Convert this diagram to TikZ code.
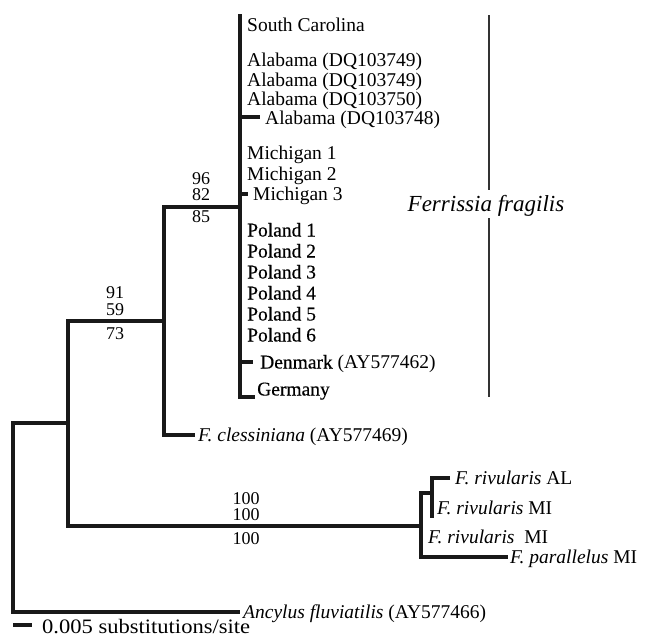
\documentclass[tikz,border=0pt]{standalone}
\usepackage{fontspec}
\setmainfont{Liberation Serif}
\newfontfamily\heavy[FakeBold=0.4]{Liberation Serif}
\newfontfamily\wide[FakeStretch=1.1]{Liberation Serif}
\begin{document}
\begin{tikzpicture}[x=1pt,y=-1pt,
  br/.style={line width=3.1pt,line join=miter,draw=black!90},
  thinline/.style={line width=1.2pt,draw=black!80},
  lbl/.style={anchor=base west,inner sep=0pt,font=\fontsize{19.5}{20}\selectfont},
  num/.style={anchor=base,inner sep=0pt,font=\fontsize{18}{18}\selectfont}]
\useasboundingbox (0,0) rectangle (647,640);
% internal nodes
\coordinate (R) at (13,423);
\coordinate (N2j) at (68,423);
\coordinate (N2) at (68,321);
\coordinate (N3j) at (164,321);
\coordinate (N3) at (164,207);
\coordinate (NFj) at (240,207);
\coordinate (NF) at (240,14);
\coordinate (NRj) at (421,526);
\coordinate (NR) at (421,493);
\coordinate (NR2j) at (432,493);
\coordinate (NR2) at (432,478);
\coordinate (NR2b) at (432,518);
% tips
\coordinate (tAnc) at (240,612);
\coordinate (tCle) at (195,435);
\coordinate (tGer) at (255,397);
\coordinate (tDen) at (253,362);
\coordinate (tMi3) at (248,194);
\coordinate (tAl4) at (260,117);
\coordinate (tAL) at (450,478);
\coordinate (tPar) at (508,557);
% branches
\draw[br] (N2j) -- (R) |- (tAnc);
\draw[br] (N3j) -- (N2) |- (NRj);
\draw[br] (NFj) -- (N3) |- (tCle);
\draw[br] (NF) |- (tGer);
\draw[br] (NF |- tDen) -- (tDen);
\draw[br] (NF |- tMi3) -- (tMi3);
\draw[br] (NF |- tAl4) -- (tAl4);
\draw[br] (NR2j) -- (NR) |- (tPar);
\draw[br] (tAL) -- (NR2) -- (NR2b);
% tip labels
\node[lbl] (sc) at (247,31.5) {South Carolina};
\node[lbl] (al1) at (247,66.5) {Alabama (DQ103749)};
\node[lbl] (al2) at (247,86.5) {Alabama (DQ103749)};
\node[lbl] (al3) at (247,105.5) {Alabama (DQ103750)};
\node[lbl] (al4) at (265,124.5) {Alabama (DQ103748)};
\node[lbl] (mi1) at (247,159.5) {Michigan 1};
\node[lbl] (mi2) at (247,180.5) {Michigan 2};
\node[lbl] (mi3) at (253,200.5) {Michigan 3};
\node[lbl] (po1) at (247,236.5) {\heavy Poland 1};
\node[lbl] (po2) at (247,257.5) {\heavy Poland 2};
\node[lbl] (po3) at (247,278.5) {\heavy Poland 3};
\node[lbl] (po4) at (247,299.5) {\heavy Poland 4};
\node[lbl] (po5) at (247,320.5) {\heavy Poland 5};
\node[lbl] (po6) at (247,341.5) {\heavy Poland 6};
\node[lbl] (den) at (260,368.5) {{\heavy Denmark} (AY577462)};
\node[lbl] (ger) at (257,395.5) {\heavy Germany};
\node[lbl] (cle) at (198,441.5) {\textit{F. clessiniana} (AY577469)};
\node[lbl] (rAL) at (455,484.5) {\textit{F. rivularis} AL};
\node[lbl] (rMI) at (437,514.5) {\textit{F. rivularis} MI};
\node[lbl] (rMI2) at (428,543.5) {\textit{F. rivularis}\ \ MI};
\node[lbl] (par) at (510,563.5) {\textit{F. parallelus} MI};
\node[lbl] (anc) at (243,618.5) {\textit{Ancylus fluviatilis} (AY577466)};
% support values
\node[num] (b96) at (201,184.5) {96};
\node[num] (b82) at (201,200.5) {82};
\node[num] (b85) at (201,222.5) {85};
\node[num] (b91) at (115,298.5) {91};
\node[num] (b59) at (115,315.5) {59};
\node[num] (b73) at (115,339.5) {73};
\node[num] (c1) at (246,504.5) {100};
\node[num] (c2) at (246,520.5) {100};
\node[num] (c3) at (246,544.5) {100};
% clade bracket
\node[anchor=base,inner sep=0pt,font=\fontsize{23}{23}\selectfont\itshape] (ff) at (486,211) {Ferrissia fragilis};
\coordinate (fb1) at (489,15);
\coordinate (fb2) at (489,190);
\coordinate (fb3) at (489,218);
\coordinate (fb4) at (489,397);
\draw[thinline] (fb1) -- (fb2);
\draw[thinline] (fb3) -- (fb4);
% scale bar
\coordinate (sb1) at (13,625);
\coordinate (sb2) at (32,625);
\draw[br] (sb1) -- (sb2);
\node[anchor=base west,inner sep=0pt,font=\wide\fontsize{20.5}{21}\selectfont] (sbt) at (42,633) {0.005 substitutions/site};
\end{tikzpicture}
\end{document}
